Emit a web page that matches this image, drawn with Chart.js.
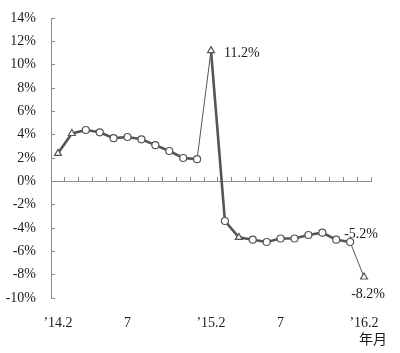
<!DOCTYPE html>
<html>
<head>
<meta charset="utf-8">
<script src="https://cdn.jsdelivr.net/npm/chart.js@4"></script>
<style>
  html, body { margin: 0; padding: 0; background: #fff; }
  #wrap { width: 400px; height: 353px; }
</style>
</head>
<body>
<div id="wrap"><canvas id="chart" width="400" height="353"></canvas></div>
<script>
// months ('14.2 = Jan-Feb 2014 combined, no January point)
const months = [
  '14.2', '14.3', '14.4', '14.5', '14.6', '14.7', '14.8', '14.9', '14.10', '14.11', '14.12',
  '15.2', '15.3', '15.4', '15.5', '15.6', '15.7', '15.8', '15.9', '15.10', '15.11', '15.12',
  '16.2'
];
// tick labels printed under the axis
const tickLabels = [
  '\u201914.2', '', '', '', '', '7', '', '', '', '', '',
  '\u201915.2', '', '', '', '', '7', '', '', '', '', '',
  '\u201916.2'
];
// growth rate, %
const growth = [
  2.4, 4.1, 4.4, 4.2, 3.7, 3.8, 3.6, 3.1, 2.6, 2.0, 1.9,
  11.2, -3.4, -4.8, -5.0, -5.2, -4.9, -4.9, -4.6, -4.4, -5.0, -5.2,
  -8.2
];
const yTicks = [-10, -8, -6, -4, -2, 0, 2, 4, 6, 8, 10, 12, 14];
const unitLabel = '年月';

const triangleAt = [0, 1, 11, 13, 22];
const thinAfter = [10, 21];          // segments drawn with the thin line
const labelledPoints = [11, 21, 22];

const lineColor = '#555';
const axisColor = '#8c8c8c';
const textColor = '#1a1a1a';
const serif = '"Liberation Serif", "DejaVu Serif", serif';

// value tags beside a few points
const valueTags = {
  id: 'valueTags',
  afterDatasetsDraw(chart) {
    const ctx = chart.ctx;
    const meta = chart.getDatasetMeta(0);
    const place = {
      11: { dx: 13, dy: 3, align: 'left' },
      21: { dx: -6, dy: -8, align: 'left' },
      22: { dx: 4, dy: 17, align: 'center' }
    };
    ctx.save();
    ctx.font = '14px ' + serif;
    ctx.fillStyle = textColor;
    ctx.textBaseline = 'middle';
    labelledPoints.forEach(i => {
      const pt = meta.data[i];
      const p = place[i];
      ctx.textAlign = p.align;
      ctx.fillText(growth[i].toFixed(1) + '%', pt.x + p.dx, pt.y + p.dy);
    });
    // axis unit under the last label
    const xs = chart.scales.x;
    ctx.font = '14px "Noto Sans CJK SC", sans-serif';
    ctx.textAlign = 'center';
    ctx.fillText(unitLabel, xs.right + 2, xs.bottom - 14);
    ctx.restore();
  }
};

const yRange = {
  min: yTicks[0],
  max: yTicks[yTicks.length - 1],
  afterBuildTicks: s => { s.ticks = yTicks.map(v => ({ value: v })); }
};

new Chart(document.getElementById('chart'), {
  type: 'line',
  data: {
    labels: months,
    datasets: [{
      data: growth,
      borderColor: lineColor,
      borderWidth: 2.6,
      tension: 0,
      pointStyle: months.map((m, i) => triangleAt.includes(i) ? 'triangle' : 'circle'),
      pointRadius: months.map((m, i) => triangleAt.includes(i) ? 4 : 3.5),
      pointBackgroundColor: '#fff',
      pointBorderColor: lineColor,
      pointBorderWidth: 1.2,
      segment: {
        borderWidth: ctx => thinAfter.includes(ctx.p0DataIndex) ? 1 : 2.6
      }
    }]
  },
  options: {
    responsive: false,
    animation: false,
    layout: { padding: { top: 18, right: 29, left: 0, bottom: 0 } },
    plugins: {
      legend: { display: false },
      tooltip: { enabled: false }
    },
    scales: {
      x: {
        type: 'category',
        position: 'bottom',
        offset: true,
        grid: { display: false, drawTicks: false },
        border: { display: false },
        ticks: {
          autoSkip: false,
          maxRotation: 0,
          padding: 17,
          color: textColor,
          font: { family: serif, size: 14 },
          callback: (v, i) => tickLabels[i]
        },
        afterFit: s => { s.height = 55; }
      },
      // zero line with short upward ticks between months
      xZero: {
        type: 'category',
        position: { y: 0 },
        offset: true,
        grid: { offset: true, drawOnChartArea: false, tickLength: -5, color: axisColor },
        border: { color: axisColor },
        ticks: { display: false }
      },
      y: {
        ...yRange,
        grid: { drawOnChartArea: false, tickLength: 6, color: 'rgba(0,0,0,0)' },
        border: { color: axisColor },
        ticks: {
          padding: 9,
          color: textColor,
          font: { family: serif, size: 14 },
          callback: v => v + '%'
        },
        afterFit: s => { s.width = 51; }
      },
      // inward tick marks on the value axis
      yMarks: {
        ...yRange,
        position: { x: -0.5 },
        grid: { drawOnChartArea: false, tickLength: -4, color: axisColor },
        border: { display: false },
        ticks: { display: false }
      }
    }
  },
  plugins: [valueTags]
});
</script>
</body>
</html>
